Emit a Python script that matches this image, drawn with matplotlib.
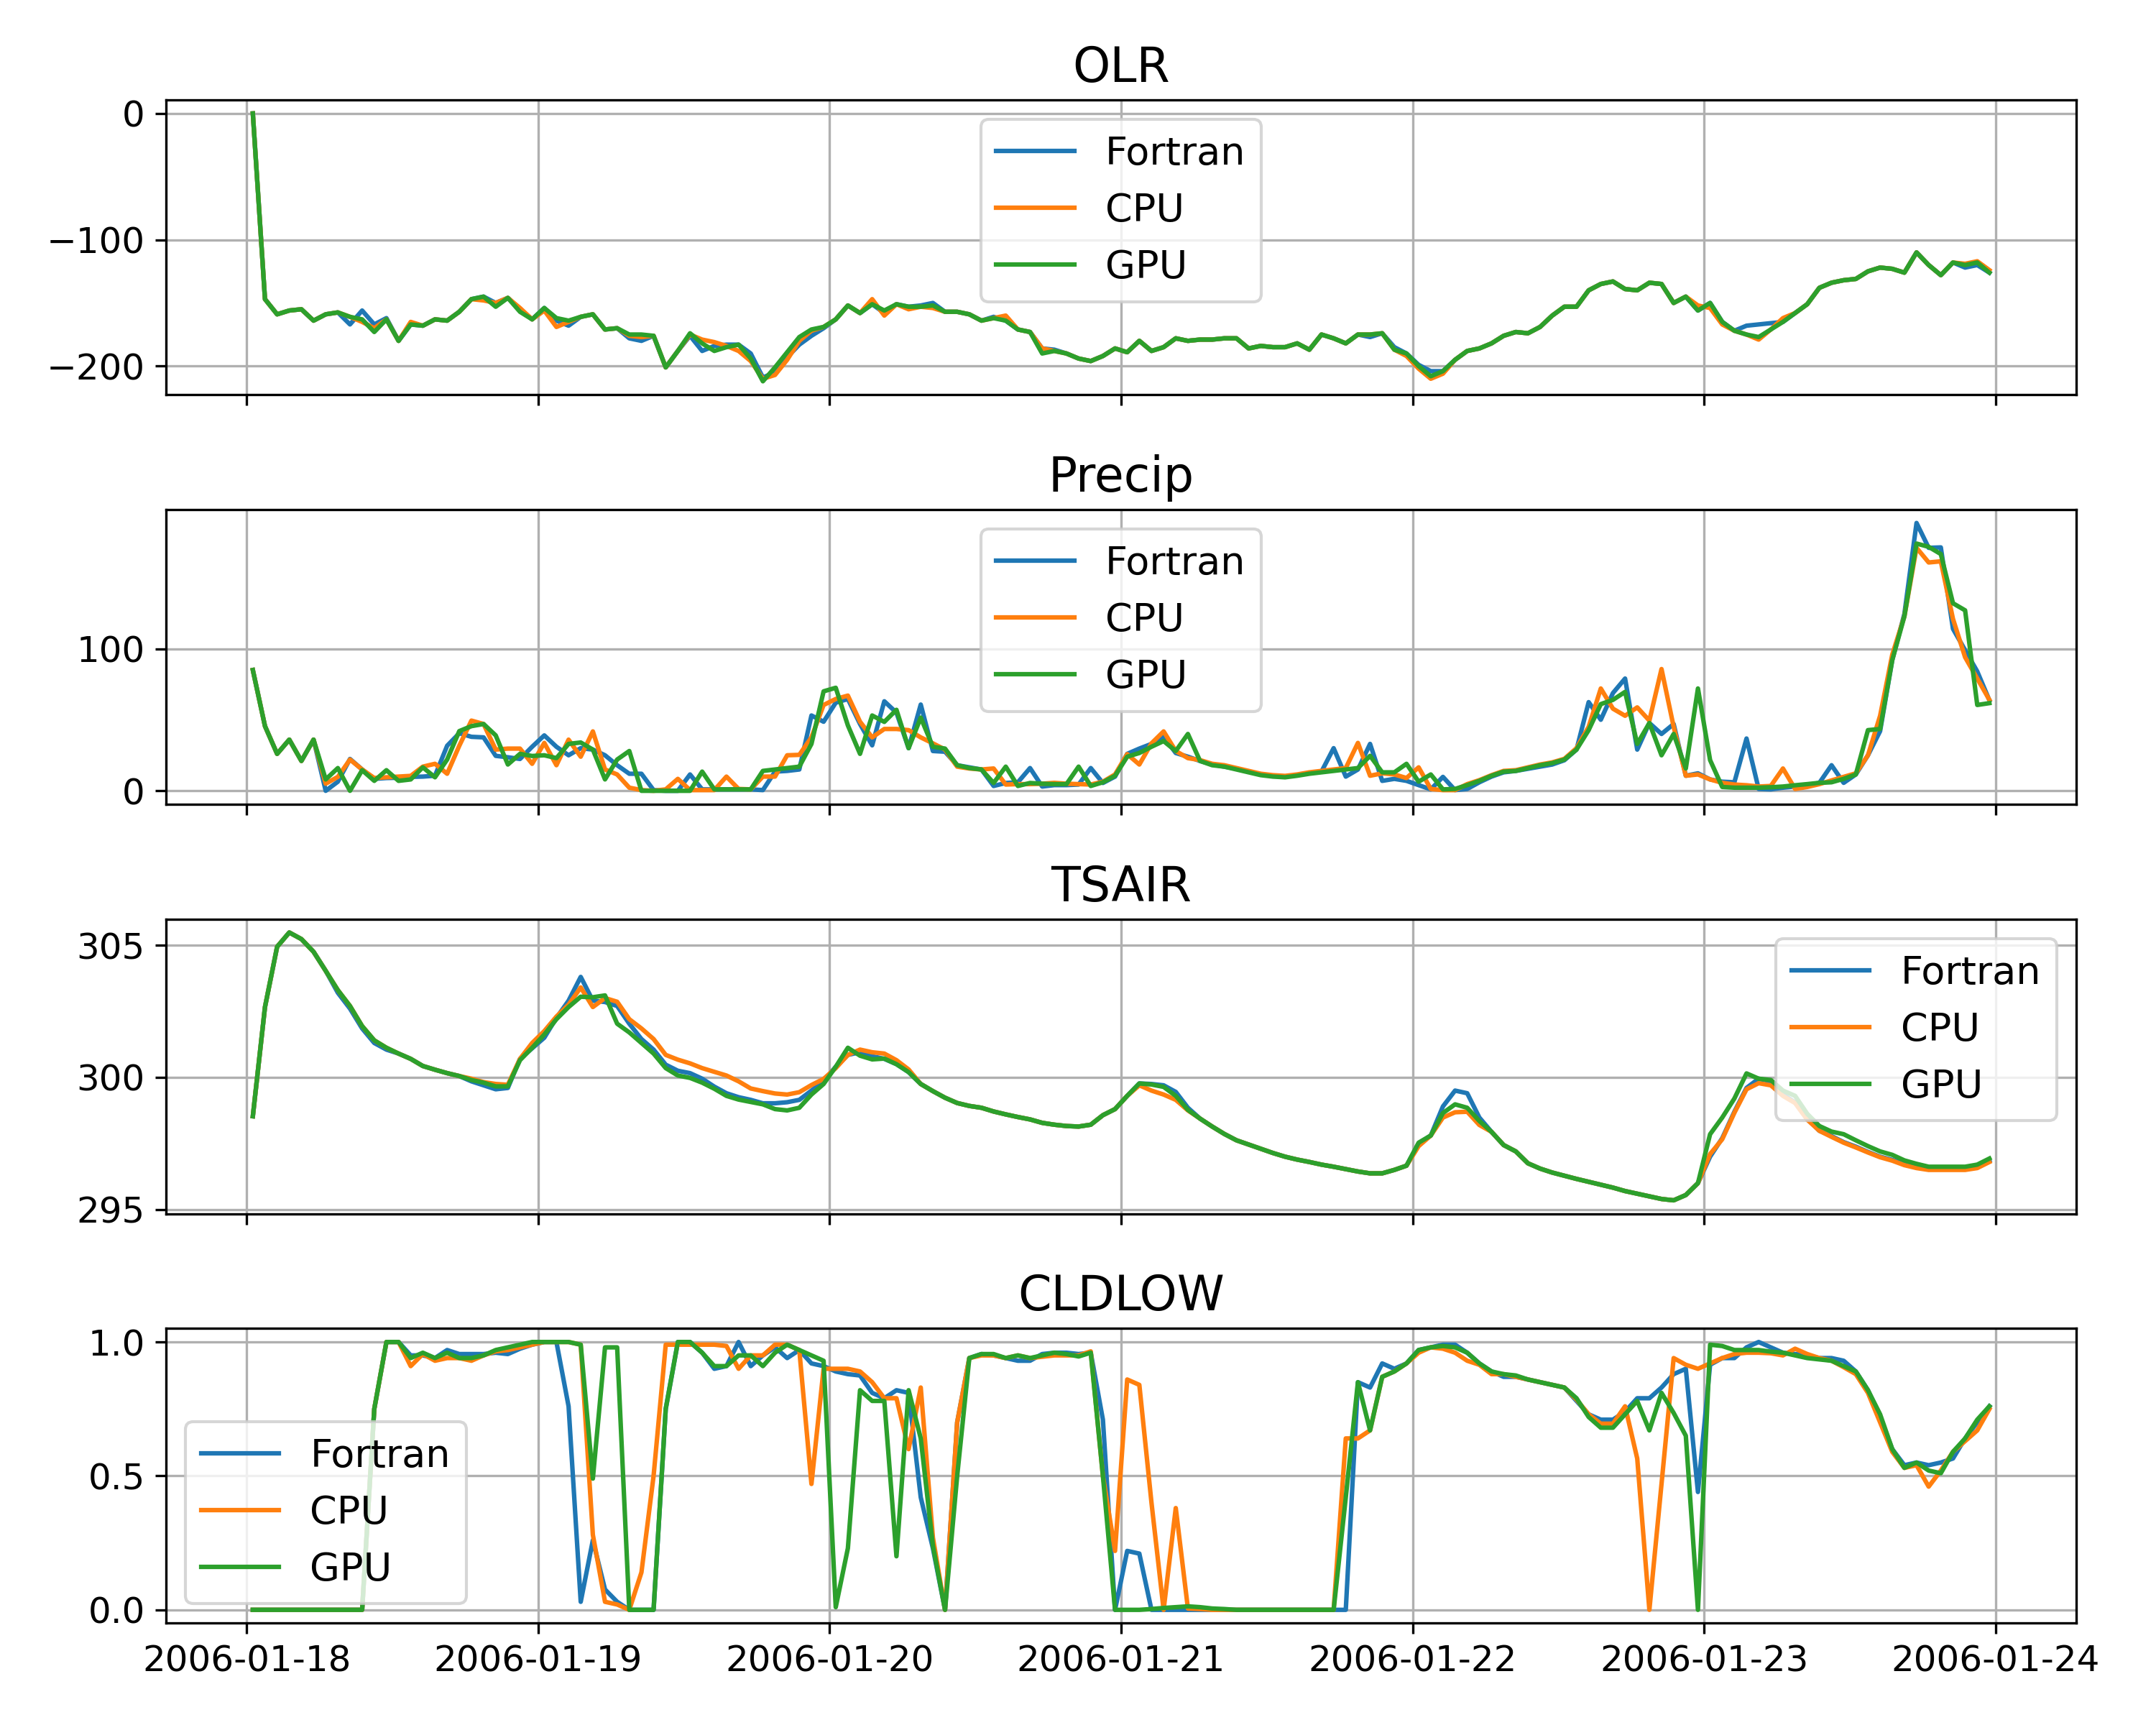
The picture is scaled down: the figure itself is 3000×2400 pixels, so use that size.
import matplotlib
matplotlib.use("Agg")
import matplotlib.pyplot as plt
import pandas as pd

plt.rcParams['font.size'] = 12

# hourly output, stamped at the half hour
times = pd.date_range("2006-01-18 00:30", periods=144, freq="h")

olr_fortran = [0, -147, -159, -156, -155, -164, -159, -157.5, -167, -156, -167, -162, -180, -167, -168, -163,
               -164, -157, -147, -145, -150, -146, -155, -163, -154, -164, -168, -161, -159, -171, -170, -178,
               -180, -176, -201, -188, -176, -188, -184, -183, -183, -190, -209, -205, -193, -183, -176, -170,
               -163, -152, -158, -151, -158, -151, -153, -152, -150, -157, -157, -159, -164, -161, -164, -171,
               -173, -186, -187, -190, -194, -196, -192, -186, -189, -180, -188, -185, -178, -180, -179, -179,
               -178, -178, -186, -184, -185, -185, -182, -187, -175, -178, -182, -175, -177, -174, -185, -190,
               -199, -204, -204, -195, -188, -186, -182, -176, -173, -174, -169, -160, -153, -153, -140, -135,
               -133, -139, -140, -134, -135, -150, -145, -156, -150, -165, -172, -168, -167, -166, -165, -158,
               -151, -138, -134, -132, -131, -125, -122, -123, -126, -110, -120, -128, -118, -122, -120, -126]
olr_cpu = [0, -147, -159, -156, -155, -164, -159, -157.5, -161, -165, -170, -163, -180, -165, -168, -163,
           -164, -157, -147, -148, -150, -146, -154, -163, -156, -169, -165, -161, -159, -171, -170, -176,
           -177, -176, -201, -188, -175, -179, -181, -184, -188, -196, -210, -207, -195, -180, -172, -169,
           -163, -152, -158, -147, -160, -151, -155, -153, -154, -157, -157, -159, -164, -162, -160, -171,
           -173, -186, -188, -190, -194, -196, -192, -186, -189, -180, -188, -185, -178, -180, -179, -179,
           -178, -178, -186, -184, -185, -185, -182, -187, -175, -178, -182, -175, -175, -174, -187, -192,
           -202, -210, -206, -195, -188, -186, -182, -176, -173, -174, -169, -160, -153, -153, -140, -135,
           -133, -139, -140, -134, -135, -150, -145, -152, -154, -167, -172, -175, -179, -171, -162, -158,
           -151, -138, -134, -132, -131, -125, -122, -123, -126, -110, -120, -128, -118, -119, -117, -124]
olr_gpu = [0, -147, -159, -156, -155, -164, -159, -157.5, -161, -163, -173, -163, -180, -167, -168, -163,
           -164, -157, -147, -145, -153, -146, -157, -163, -154, -162, -164, -161, -159, -171, -170, -175,
           -175, -176, -201, -188, -174, -182, -188, -185, -183, -194, -212, -201, -189, -177, -171, -169,
           -163, -152, -158, -151, -156, -151, -153, -153, -152, -157, -157, -159, -164, -162, -164, -171,
           -173, -190, -188, -190, -194, -196, -192, -186, -189, -180, -188, -185, -178, -180, -179, -179,
           -178, -178, -186, -184, -185, -185, -182, -187, -175, -178, -182, -175, -175, -174, -187, -190,
           -200, -208, -204, -195, -188, -186, -182, -176, -173, -174, -169, -160, -153, -153, -140, -135,
           -133, -139, -140, -134, -135, -150, -145, -156, -150, -165, -172, -175, -177, -171, -165, -158,
           -151, -138, -134, -132, -131, -125, -122, -123, -126, -110, -120, -128, -118, -120, -118, -126]

precip_fortran = [85, 45.5, 26, 36, 21, 36, 0, 6.4, 22.4, 15, 8.4, 9, 9.2, 9.8, 10, 10.6,
                  31.7, 40.5, 38, 37.6, 24.6, 23.6, 22.4, 31, 39, 31, 25, 30, 29, 25, 18, 12,
                  12, 0.5, 0, 0, 11.5, 1, 1, 1, 1, 1, 0.5, 13.5, 14, 15, 53, 48.6,
                  62, 64.6, 47, 32, 63, 55, 30, 60.7, 28, 27.5, 18, 16.5, 15, 3.4, 5.5, 6,
                  16, 3, 4, 4, 4.4, 16, 5.5, 10, 26, 29.7, 33, 38, 26.6, 24, 21, 18.5,
                  17, 15.5, 13.5, 11.5, 10.5, 10, 11, 12.5, 13.5, 30, 10, 15, 33, 7, 8.4, 7,
                  4, 1, 9.8, 0.5, 1.3, 6, 10, 13, 14, 15.5, 17, 18.5, 21.5, 29, 62.4, 50,
                  68.8, 79, 29, 47.7, 40, 47, 10.6, 12.3, 8, 6.4, 6, 36.8, 1.3, 1, 2.2, 3,
                  3.9, 5.6, 18, 5.6, 11.5, 25, 42, 92, 124.5, 188.5, 171, 171.3, 114, 99, 84, 63.7]
precip_cpu = [85, 45.5, 26, 36, 21, 36, 5, 9.8, 22, 15, 9, 9.5, 10, 10.5, 17, 19,
              12, 31.7, 49.4, 47, 29, 29.7, 29.7, 19, 33.7, 18, 36, 24, 41.8, 15, 11.5, 2.2,
              0.5, 0, 1, 8.4, 0.5, 0.5, 0.5, 10, 1.3, 1, 10, 10, 25, 25.3, 37.6, 60.4,
              64.6, 67, 48.6, 37.6, 43.5, 43.5, 42.7, 37.6, 33.4, 29, 17, 15.7, 15, 15.7, 4.4, 4.7,
              4.7, 5, 5.6, 5, 4.7, 4.4, 6.4, 11.5, 25.8, 18.5, 33.4, 41.8, 28, 23, 21.6, 19,
              18, 16, 14, 12, 11, 10.5, 11.5, 13, 14, 15, 16, 33.7, 10.6, 12.3, 11.5, 9,
              16.5, 1.3, 0.5, 0.5, 4.7, 7.5, 11, 14, 14.5, 16.5, 18.5, 20, 22.5, 30, 45, 72,
              57.8, 52.8, 58.7, 49.4, 85.7, 45, 10.6, 11.5, 8, 5.6, 4.4, 3.9, 3, 3.4, 15.7, 1.3,
              2.7, 4.7, 7.3, 9.8, 12.3, 25, 52.8, 95.8, 122.8, 171, 160.7, 161.5, 121, 94, 79, 64]
precip_gpu = [85, 45.5, 26, 36, 21, 36, 8, 16, 0, 14.5, 7, 14.5, 7, 8, 16.5, 9.5,
              22, 42, 45.5, 47, 39, 18.5, 26, 24.5, 25, 23, 33, 34, 29, 8, 22, 28,
              0, 0, 0, 0, 0, 13.5, 1, 1, 1, 1, 14, 15, 16, 17, 33, 70,
              72.5, 46, 26, 53, 48.5, 57, 30, 51.5, 31, 29.7, 18, 16, 15, 5.5, 17, 3.4,
              5.5, 5, 4.7, 4.7, 17, 3.4, 6, 10.6, 24, 26.6, 31, 35, 28, 40, 21, 18,
              17, 15, 13, 11, 10, 9.5, 10.6, 12, 13, 14, 15, 16, 24.6, 13, 13, 19,
              6.4, 11.5, 1, 1.3, 4, 7, 10.6, 13.5, 14, 16, 18, 19.5, 22, 29, 42.7, 61,
              64, 69.6, 33, 47.7, 25, 40, 15.7, 72, 21.6, 2.7, 2.2, 2.2, 2.2, 2.5, 3, 3.9,
              4.7, 5.6, 6, 8.4, 11.5, 42.7, 43.5, 92, 122.8, 174, 171.7, 166.6, 132, 127, 60.4, 61.7]

tsair_fortran = [298.53, 302.66, 304.94, 305.48, 305.23, 304.75, 304.03, 303.2, 302.6, 301.85, 301.3, 301.05,
                 300.9, 300.7, 300.43, 300.29, 300.16, 300.05, 299.85, 299.7, 299.55, 299.6, 300.7, 301.1,
                 301.5, 302.25, 302.9, 303.8, 302.9, 302.85, 302.7, 302.03, 301.45, 301.05, 300.48, 300.25,
                 300.16, 299.95, 299.65, 299.4, 299.25, 299.15, 299.02, 299.02, 299.06, 299.15, 299.5, 299.87,
                 300.4, 300.85, 300.95, 300.8, 300.7, 300.5, 300.2, 299.75, 299.48, 299.23, 299.03, 298.92,
                 298.85, 298.71, 298.6, 298.5, 298.41, 298.28, 298.21, 298.16, 298.14, 298.21, 298.57, 298.8,
                 299.3, 299.77, 299.75, 299.7, 299.45, 298.85, 298.44, 298.14, 297.86, 297.62, 297.46, 297.3,
                 297.14, 297.0, 296.89, 296.8, 296.7, 296.62, 296.53, 296.44, 296.37, 296.37, 296.5, 296.66,
                 297.5, 297.8, 298.9, 299.5, 299.4, 298.48, 297.94, 297.44, 297.2, 296.75, 296.55, 296.4,
                 296.28, 296.16, 296.05, 295.94, 295.83, 295.7, 295.6, 295.5, 295.4, 295.35, 295.55, 296.0,
                 297.0, 297.7, 298.7, 299.6, 299.95, 299.85, 299.35, 299.05, 298.45, 297.98, 297.78, 297.55,
                 297.38, 297.18, 297.0, 296.88, 296.72, 296.6, 296.55, 296.55, 296.55, 296.55, 296.62, 296.85]
tsair_cpu = [298.53, 302.66, 304.94, 305.48, 305.23, 304.75, 304.03, 303.3, 302.7, 301.94, 301.4, 301.12,
             300.9, 300.7, 300.43, 300.29, 300.16, 300.05, 299.95, 299.82, 299.75, 299.72, 300.7, 301.3,
             301.75, 302.3, 302.75, 303.4, 302.66, 303.0, 302.86, 302.2, 301.85, 301.45, 300.85, 300.67,
             300.53, 300.35, 300.21, 300.07, 299.85, 299.58, 299.48, 299.39, 299.35, 299.44, 299.71, 299.94,
             300.35, 300.85, 301.05, 300.95, 300.9, 300.65, 300.3, 299.75, 299.48, 299.23, 299.03, 298.92,
             298.85, 298.71, 298.6, 298.5, 298.41, 298.28, 298.21, 298.16, 298.14, 298.21, 298.57, 298.8,
             299.3, 299.7, 299.5, 299.35, 299.15, 298.75, 298.44, 298.14, 297.86, 297.62, 297.46, 297.3,
             297.14, 297.0, 296.89, 296.8, 296.7, 296.62, 296.53, 296.44, 296.37, 296.37, 296.5, 296.66,
             297.4, 297.8, 298.48, 298.68, 298.7, 298.2, 297.94, 297.44, 297.2, 296.75, 296.55, 296.4,
             296.28, 296.16, 296.05, 295.94, 295.83, 295.7, 295.6, 295.5, 295.4, 295.35, 295.55, 296.0,
             297.1, 297.66, 298.66, 299.55, 299.78, 299.7, 299.3, 299.03, 298.4, 297.98, 297.75, 297.53,
             297.35, 297.16, 296.98, 296.85, 296.68, 296.57, 296.5, 296.5, 296.5, 296.5, 296.57, 296.8]
tsair_gpu = [298.53, 302.66, 304.94, 305.48, 305.23, 304.75, 304.03, 303.3, 302.7, 301.94, 301.4, 301.12,
             300.9, 300.7, 300.43, 300.29, 300.16, 300.05, 299.9, 299.8, 299.66, 299.66, 300.65, 301.12,
             301.62, 302.2, 302.66, 303.05, 303.03, 303.1, 302.03, 301.7, 301.3, 300.9, 300.35, 300.07,
             299.98, 299.8, 299.57, 299.3, 299.16, 299.07, 298.98, 298.8, 298.75, 298.85, 299.35, 299.75,
             300.4, 301.12, 300.82, 300.68, 300.71, 300.5, 300.2, 299.75, 299.48, 299.23, 299.03, 298.92,
             298.85, 298.71, 298.6, 298.5, 298.41, 298.28, 298.21, 298.16, 298.14, 298.21, 298.57, 298.8,
             299.3, 299.77, 299.73, 299.64, 299.3, 298.77, 298.44, 298.14, 297.86, 297.62, 297.46, 297.3,
             297.14, 297.0, 296.89, 296.8, 296.7, 296.62, 296.53, 296.44, 296.37, 296.37, 296.5, 296.66,
             297.53, 297.8, 298.65, 298.98, 298.85, 298.35, 297.94, 297.44, 297.2, 296.75, 296.55, 296.4,
             296.28, 296.16, 296.05, 295.94, 295.83, 295.7, 295.6, 295.5, 295.4, 295.35, 295.55, 296.0,
             297.85, 298.48, 299.2, 300.15, 299.95, 299.9, 299.5, 299.3, 298.62, 298.16, 297.95, 297.85,
             297.62, 297.4, 297.2, 297.07, 296.86, 296.73, 296.62, 296.62, 296.62, 296.62, 296.7, 296.93]

cldlow_fortran = [0, 0, 0, 0, 0, 0, 0, 0, 0, 0, 0.75, 1.0, 1.0, 0.95, 0.95, 0.94,
                  0.97, 0.955, 0.955, 0.955, 0.96, 0.955, 0.975, 0.99, 1.0, 1.0, 0.76, 0.03, 0.26, 0.076, 0.03, 0.0,
                  0.0, 0.0, 0.75, 1.0, 1.0, 0.96, 0.9, 0.91, 1.0, 0.91, 0.95, 0.98, 0.94, 0.97, 0.92, 0.91,
                  0.89, 0.88, 0.875, 0.81, 0.79, 0.82, 0.81, 0.42, 0.23, 0.0, 0.7, 0.94, 0.955, 0.95, 0.94, 0.93,
                  0.93, 0.955, 0.96, 0.96, 0.955, 0.96, 0.71, 0.0, 0.22, 0.21, 0.0, 0, 0, 0, 0, 0,
                  0, 0, 0, 0, 0, 0, 0, 0, 0, 0, 0.0, 0.85, 0.83, 0.92, 0.9, 0.92,
                  0.97, 0.98, 0.99, 0.99, 0.96, 0.92, 0.89, 0.87, 0.87, 0.86, 0.85, 0.84, 0.83, 0.78, 0.73, 0.71,
                  0.71, 0.74, 0.79, 0.79, 0.83, 0.88, 0.9, 0.44, 0.915, 0.94, 0.94, 0.98, 1.0, 0.98, 0.96, 0.955,
                  0.95, 0.94, 0.94, 0.93, 0.89, 0.82, 0.72, 0.6, 0.54, 0.55, 0.54, 0.55, 0.565, 0.64, 0.7, 0.76]
cldlow_cpu = [0, 0, 0, 0, 0, 0, 0, 0, 0, 0, 0.75, 1.0, 1.0, 0.91, 0.955, 0.93,
              0.94, 0.94, 0.93, 0.95, 0.965, 0.97, 0.98, 0.99, 1.0, 1.0, 1.0, 0.99, 0.28, 0.03, 0.02, 0.0,
              0.14, 0.5, 0.99, 0.99, 0.99, 0.99, 0.99, 0.985, 0.9, 0.95, 0.95, 0.99, 0.99, 0.97, 0.47, 0.9,
              0.9, 0.9, 0.89, 0.85, 0.79, 0.79, 0.6, 0.83, 0.27, 0.0, 0.7, 0.94, 0.95, 0.95, 0.94, 0.95,
              0.94, 0.945, 0.95, 0.95, 0.95, 0.965, 0.5, 0.22, 0.86, 0.84, 0.4, 0.0, 0.38, 0.005, 0.003, 0,
              0, 0, 0, 0, 0, 0, 0, 0, 0, 0.0, 0.64, 0.64, 0.67, 0.87, 0.89, 0.92,
              0.96, 0.98, 0.975, 0.96, 0.93, 0.915, 0.88, 0.88, 0.87, 0.86, 0.85, 0.84, 0.83, 0.785, 0.73, 0.695,
              0.695, 0.76, 0.565, 0.0, 0.47, 0.94, 0.915, 0.9, 0.92, 0.94, 0.955, 0.96, 0.96, 0.958, 0.95, 0.975,
              0.955, 0.94, 0.93, 0.906, 0.88, 0.81, 0.7, 0.59, 0.53, 0.54, 0.46, 0.52, 0.59, 0.63, 0.67, 0.75]
cldlow_gpu = [0, 0, 0, 0, 0, 0, 0, 0, 0, 0, 0.75, 1.0, 1.0, 0.94, 0.96, 0.94,
              0.96, 0.94, 0.94, 0.95, 0.97, 0.98, 0.99, 1.0, 1.0, 1.0, 1.0, 0.99, 0.49, 0.98, 0.98, 0.0,
              0.0, 0.0, 0.75, 1.0, 1.0, 0.96, 0.91, 0.91, 0.95, 0.95, 0.91, 0.96, 0.99, 0.97, 0.95, 0.93,
              0.01, 0.23, 0.82, 0.78, 0.78, 0.2, 0.82, 0.64, 0.24, 0.0, 0.5, 0.94, 0.955, 0.955, 0.94, 0.95,
              0.94, 0.95, 0.96, 0.955, 0.946, 0.96, 0.5, 0.0, 0.0, 0.0, 0.003, 0.007, 0.01, 0.013, 0.01, 0.005,
              0.003, 0, 0, 0, 0, 0, 0, 0, 0, 0, 0.42, 0.85, 0.67, 0.87, 0.89, 0.92,
              0.97, 0.98, 0.985, 0.98, 0.96, 0.92, 0.89, 0.88, 0.875, 0.86, 0.85, 0.84, 0.83, 0.79, 0.72, 0.68,
              0.68, 0.73, 0.78, 0.67, 0.81, 0.735, 0.65, 0.0, 0.99, 0.985, 0.97, 0.97, 0.97, 0.964, 0.96, 0.95,
              0.94, 0.935, 0.93, 0.91, 0.89, 0.82, 0.73, 0.6, 0.53, 0.55, 0.52, 0.51, 0.59, 0.64, 0.71, 0.76]

panels = [
    ("OLR", olr_fortran, olr_cpu, olr_gpu, "upper center"),
    ("Precip", precip_fortran, precip_cpu, precip_gpu, "upper center"),
    ("TSAIR", tsair_fortran, tsair_cpu, tsair_gpu, "upper right"),
    ("CLDLOW", cldlow_fortran, cldlow_cpu, cldlow_gpu, "lower left"),
]

fig, axes = plt.subplots(4, 1, figsize=(10, 8), sharex=True)
fig.subplots_adjust(left=0.077, right=0.963, top=0.942, bottom=0.059, hspace=0.39)

for ax, (name, f, c, g, loc) in zip(axes, panels):
    ax.plot(times, f, label="Fortran")
    ax.plot(times, c, label="CPU")
    ax.plot(times, g, label="GPU")
    ax.set_title(name, fontsize=16)
    ax.grid(True)
    ax.legend(loc=loc, fontsize=13)

fig.savefig("out.png", dpi=300)
